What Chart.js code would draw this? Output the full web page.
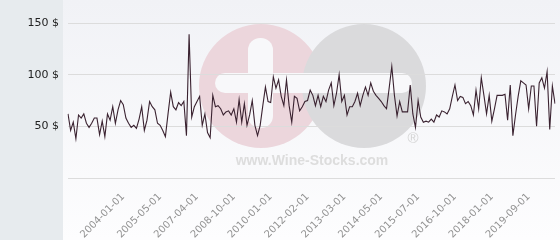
<!DOCTYPE html>
<html>
<head>
<meta charset="utf-8">
<script src="https://cdn.jsdelivr.net/npm/chart.js@4.4.1/dist/chart.umd.min.js"></script>
<style>
  html, body { margin: 0; padding: 0; }
  body {
    width: 560px; height: 240px; overflow: hidden;
    background:
      linear-gradient(to right, #e7ebee 0, #e7ebee 63px, transparent 63px),
      linear-gradient(to bottom, #f1f2f6 0%, #fdfdfe 100%);
  }
  canvas { display: block; }
</style>
</head>
<body>
<canvas id="priceChart" width="560" height="240"></canvas>
<script>
// dates shown under the axis, one every 14 points
const tickDates = ['2004-01-01', '2005-05-01', '2007-04-01', '2008-10-01', '2010-01-01', '2012-02-01',
                   '2013-03-01', '2014-05-01', '2015-07-01', '2016-10-01', '2018-01-01', '2019-09-01'];
const firstTick = 21;
const tickEvery = 14;

const yTicks = [0, 50, 100, 150];

// prices
const prices = [
    62, 46, 54, 38, 61, 58, 62, 53, 49, 53,
    58, 58, 42, 55, 40, 62, 56, 69, 53, 66,
    75, 71, 58, 53, 49, 51, 48, 57, 69, 46,
    56, 74, 69, 66, 53, 51, 46, 40, 62, 83,
    69, 66, 73, 70, 74, 41,
    139,
    59, 69, 74, 79, 51, 62, 44, 39, 80, 69,
    70, 67, 61, 64, 65, 61, 67, 54, 76, 54,
    72, 51, 61, 75, 51, 41, 51, 70, 88, 74,
    73, 98, 87, 95, 79, 70, 95, 70, 54, 79,
    77, 65, 69, 74, 75,
    85, 80, 70, 80, 69, 79, 74, 85, 92, 70,
    82, 100, 74, 80, 61, 69, 69, 74, 82, 70,
    80, 88, 80, 92, 84, 80, 77, 74, 70, 67, 87,
    108, 80, 60, 74, 64, 64, 64, 90, 62, 49, 75,
    59, 54, 55, 54, 57, 54, 61, 59, 65, 64,
    62, 67, 79, 90, 75, 79, 78, 72, 74, 70,
    61, 85, 67, 97, 80, 62, 80, 55, 67, 80,
    80, 80, 81, 56, 90, 41, 61, 79, 94, 92,
    90, 67, 89, 89, 50, 92, 97, 87, 103, 47,
    89, 72
];

const labels = prices.map((_, i) => {
    const k = (i - firstTick) / tickEvery;
    return Number.isInteger(k) && k >= 0 && k < tickDates.length ? tickDates[k] : '';
});

// faint logo behind the plot
const watermark = {
    id: 'watermark',
    beforeDraw(chart) {
        const c = chart.ctx;
        c.save();
        c.fillStyle = '#ecd6dc';
        c.beginPath(); c.arc(261, 86, 62, 0, Math.PI * 2); c.fill();
        c.fillStyle = '#dadadc';
        c.beginPath(); c.arc(364, 86, 62, 0, Math.PI * 2); c.fill();
        c.fillStyle = '#f8f8fa';
        c.beginPath(); c.roundRect(215, 73, 197, 20, 10); c.fill();
        c.beginPath(); c.roundRect(248, 38, 25, 90, 12); c.fill();
        c.fillStyle = '#dddddd';
        c.font = 'bold 14px "Liberation Sans"';
        c.textAlign = 'center';
        c.textBaseline = 'middle';
        c.fillText('www.Wine-Stocks.com', 312, 161);
        c.fillStyle = '#d4d4d4';
        c.font = '15px "Liberation Sans"';
        c.fillText('®', 413, 139);
        c.restore();
    }
};

const ctx = document.getElementById('priceChart').getContext('2d');

new Chart(ctx, {
    type: 'line',
    data: {
        labels: labels,
        datasets: [{
            data: prices,
            borderColor: '#3a2230',
            borderWidth: 1.1,
            pointRadius: 0,
            tension: 0,
            fill: false
        }]
    },
    options: {
        responsive: false,
        animation: false,
        layout: { padding: { top: 23, right: 5, left: 0, bottom: 0 } },
        plugins: {
            legend: { display: false },
            tooltip: { enabled: false }
        },
        scales: {
            x: {
                grid: { display: false },
                border: { display: false },
                afterFit: s => { s.height = 62; s.paddingLeft = 0; s.paddingRight = 0; },
                ticks: {
                    autoSkip: false,
                    minRotation: 45,
                    maxRotation: 45,
                    padding: 5,
                    color: '#929292',
                    font: { family: 'DejaVu Sans', size: 10 }
                }
            },
            y: {
                min: yTicks[0],
                max: yTicks[yTicks.length - 1],
                afterFit: s => { s.width = 68; },
                afterBuildTicks: s => { s.ticks = yTicks.map(v => ({ value: v })); },
                grid: { color: '#dcdcdc', drawTicks: false },
                border: { display: false },
                ticks: {
                    padding: 9,
                    color: '#222',
                    font: { family: 'DejaVu Sans', size: 11 },
                    callback: v => v === 0 ? '' : v + ' $'
                }
            }
        }
    },
    plugins: [watermark]
});
</script>
</body>
</html>
